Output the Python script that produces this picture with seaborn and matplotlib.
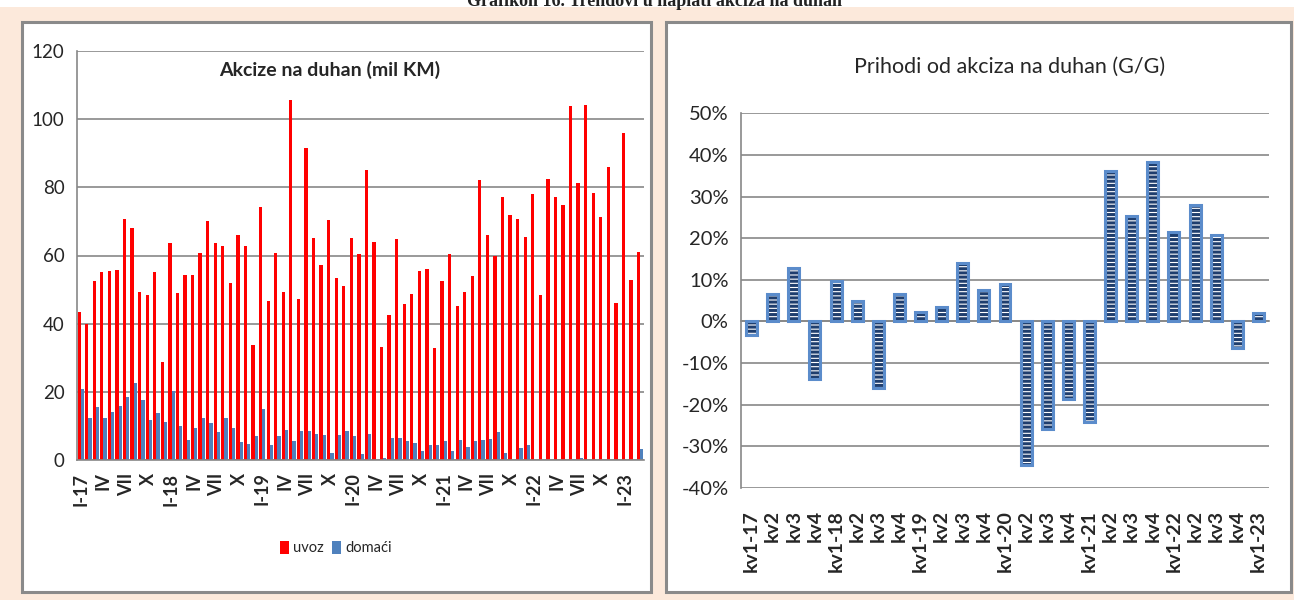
import numpy as np
import pandas as pd
import matplotlib
matplotlib.use("Agg")
import matplotlib.pyplot as plt
import seaborn as sns
from matplotlib.patches import Rectangle
from matplotlib.ticker import PercentFormatter

# podaci - lijevi grafikon (mjesečno, mil KM), I-17 .. III-23
uvoz = [43.4, 39.8, 52.5, 55.2, 55.4, 55.7, 70.8, 68.1, 49.3, 48.4, 55.2, 28.7,
        63.7, 49.0, 54.3, 54.3, 60.7, 70.2, 63.7, 62.8, 51.9, 66.0, 62.8, 33.7,
        74.3, 46.6, 60.7, 49.3, 105.5, 47.2, 91.4, 65.2, 57.2, 70.5, 53.4, 51.0,
        65.2, 60.5, 85.2, 64.0, 33.1, 42.5, 64.9, 45.7, 48.7, 55.4, 56.0, 33.0,
        52.5, 60.4, 45.1, 49.2, 53.9, 82.2, 66.0, 59.8, 77.2, 71.9, 70.7, 65.4,
        78.0, 48.3, 82.5, 77.2, 74.8, 103.9, 81.3, 104.2, 78.3, 71.3, 86.0, 46.0,
        96.0, 52.7, 61.0]
domaci = [20.8, 12.3, 15.6, 12.3, 14.0, 15.8, 18.5, 22.6, 17.6, 11.7, 13.8, 11.1,
          20.3, 9.9, 6.0, 9.5, 12.2, 11.0, 8.3, 12.2, 9.5, 5.4, 4.8, 6.9,
          14.9, 4.5, 6.9, 8.9, 5.7, 8.6, 8.6, 7.5, 7.2, 2.2, 7.3, 8.4,
          7.0, 1.9, 7.6, 0.0, 0.7, 6.4, 6.4, 5.5, 4.9, 2.7, 4.4, 4.3,
          5.5, 2.7, 5.8, 3.7, 5.5, 5.8, 6.1, 8.1, 2.2, 0.0, 3.4, 4.3,
          0.0, 0.0, 0.0, 0.0, 0.0, 0.4, 0.7, 0.0, 0.0, 0.0, 0.0, 0.0,
          0.0, 0.0, 3.1]
mjesec_oznake = ["I-17", "IV", "VII", "X", "I-18", "IV", "VII", "X",
                 "I-19", "IV", "VII", "X", "I-20", "IV", "VII", "X",
                 "I-21", "IV", "VII", "X", "I-22", "IV", "VII", "X", "I-23"]

# podaci - desni grafikon (kvartalno, rast G/G u %)
rast = [-3.2, 6.5, 12.9, -13.8, 9.8, 4.8, -16.0, 6.7, 2.3, 3.5, 14.0, 7.5,
        9.1, -34.5, -25.9, -18.7, -24.3, 36.2, 25.3, 38.4, 21.4, 28.1, 20.7,
        -6.4, 2.1]
kvartal_oznake = ["kv1-17", "kv2", "kv3", "kv4", "kv1-18", "kv2", "kv3", "kv4",
                  "kv1-19", "kv2", "kv3", "kv4", "kv1-20", "kv2", "kv3", "kv4",
                  "kv1-21", "kv2", "kv3", "kv4", "kv1-22", "kv2", "kv3", "kv4",
                  "kv1-23"]

rimski = ["I", "II", "III", "IV", "V", "VI", "VII", "VIII", "IX", "X", "XI", "XII"]
mjeseci = [f"{r}-{g}" for g in range(17, 24) for r in rimski][:len(uvoz)]
kvartali = [f"kv{q}-{g}" for g in range(17, 24) for q in range(1, 5)][:len(rast)]

df = pd.DataFrame({"mjesec": mjeseci * 2,
                   "iznos": uvoz + domaci,
                   "vrsta": ["uvoz"] * len(uvoz) + ["domaći"] * len(domaci)})
df_kv = pd.DataFrame({"kvartal": kvartali, "rast": rast})

sns.set_style("white")
plt.rcParams["font.family"] = ["Lato", "DejaVu Sans"]
plt.rcParams["axes.unicode_minus"] = False
plt.rcParams["hatch.linewidth"] = 2.2

W, H = 1294, 600
PEACH = "#FCE9DB"
GRID = "#878787"
fig = plt.figure(figsize=(W / 100, H / 100), dpi=100, facecolor=PEACH)

# bijela traka i odsječeni naslov na vrhu
fig.patches.append(Rectangle((0, 1 - 7 / H), 1, 7 / H, transform=fig.transFigure,
                             facecolor="white", edgecolor="none", zorder=-10))
fig.text(0.506, 1 - 1 / H, "Grafikon 16. Trendovi u naplati akciza na duhan",
         ha="center", va="center", fontsize=13, fontweight="bold",
         family=["Liberation Serif", "DejaVu Serif"], color="#222222")

# bijeli paneli
for x0, x1 in [(22, 651), (666, 1291)]:
    fig.patches.append(Rectangle((x0 / W, 1 - 592 / H), (x1 - x0) / W, 570 / H,
                                 transform=fig.transFigure, facecolor="white",
                                 edgecolor="#8A8A8A", lw=2.2, zorder=-10))

# --- lijevi grafikon ---
ax1 = fig.add_axes([77 / W, 1 - 460 / H, 567 / W, 409 / H])
sns.barplot(data=df, x="mjesec", y="iznos", hue="vrsta", order=mjeseci,
            palette={"uvoz": "#FF0000", "domaći": "#4F81BD"}, saturation=1,
            width=0.86, errorbar=None, linewidth=0, ax=ax1)
ax1.set_ylim(0, 120)
ax1.set_yticks(range(0, 121, 20))
ax1.yaxis.grid(True, color=GRID, lw=1.2)
ax1.set_axisbelow(True)
ax1.set_xlabel("")
ax1.set_ylabel("")
for s in ["top", "right"]:
    ax1.spines[s].set_visible(False)
for s in ["left", "bottom"]:
    ax1.spines[s].set_color(GRID)
    ax1.spines[s].set_linewidth(1.2)
pos1 = np.arange(0, len(mjeseci), 3)
ax1.set_xticks(pos1, mjesec_oznake)
ax1.set_xticks(np.arange(-0.5, len(mjeseci), 1), minor=True)
ax1.tick_params(axis="x", which="major", length=0, pad=9, labelrotation=90,
                labelsize=13)
ax1.tick_params(axis="x", which="minor", length=6, color="#B0B0B0", width=1)
ax1.tick_params(axis="y", length=5, color=GRID, labelsize=13.5, pad=4)
for t in ax1.get_xticklabels():
    t.set_fontweight("bold")
ax1.set_title("Akcize na duhan (mil KM)", fontsize=14, fontweight="bold",
              x=0.446, y=0.94, pad=0)
h, l = ax1.get_legend_handles_labels()
ax1.get_legend().remove()
fig.legend(h, l, loc="center", bbox_to_anchor=(336 / W, 1 - 548 / H), ncol=2,
           frameon=False, handlelength=0.6, handleheight=1.0, handletextpad=0.3,
           columnspacing=0.6, fontsize=10.5)

# --- desni grafikon ---
ax2 = fig.add_axes([741 / W, 1 - 487.7 / H, 528 / W, 374.2 / H])
sns.barplot(data=df_kv, x="kvartal", y="rast", order=kvartali, color="white",
            saturation=1, width=0.52, errorbar=None, ax=ax2)
for p in list(ax2.patches):
    p.set_hatch("----")
    p.set_edgecolor("#1F3E6E")
    p.set_linewidth(0)
    ax2.add_patch(Rectangle(p.get_xy(), p.get_width(), p.get_height(),
                            fill=False, edgecolor="#5B8CCB", lw=2.2, zorder=3))
ax2.set_ylim(-40, 50)
ax2.set_yticks(range(-40, 51, 10))
ax2.yaxis.set_major_formatter(PercentFormatter(decimals=0))
ax2.yaxis.grid(True, color=GRID, lw=1.2)
ax2.set_axisbelow(True)
ax2.set_xlabel("")
ax2.set_ylabel("")
for s in ["top", "right"]:
    ax2.spines[s].set_visible(False)
ax2.spines["left"].set_color(GRID)
ax2.spines["left"].set_linewidth(1.2)
ax2.spines["bottom"].set_position(("data", 0))
ax2.spines["bottom"].set_color(GRID)
ax2.spines["bottom"].set_linewidth(1.2)
ax2.set_xticks(np.arange(-0.5, len(kvartali), 1), minor=True)
ax2.tick_params(axis="x", which="major", length=0, labelbottom=False)
ax2.tick_params(axis="x", which="minor", length=6, color="#A8A8A8", width=1)
ax2.tick_params(axis="y", length=5, color=GRID, labelsize=14.5, pad=4)
sec = ax2.secondary_xaxis(0.0)
sec.set_xticks(range(len(kvartali)), kvartal_oznake)
sec.tick_params(length=0, pad=16, labelrotation=90, labelsize=14)
sec.spines["bottom"].set_visible(False)
for t in sec.get_xticklabels():
    t.set_fontweight("bold")
fig.text(1010 / W, 1 - 67 / H, "Prihodi od akciza na duhan (G/G)",
         ha="center", va="center", fontsize=15.5)

fig.savefig("out.png", dpi=100, facecolor=PEACH)
